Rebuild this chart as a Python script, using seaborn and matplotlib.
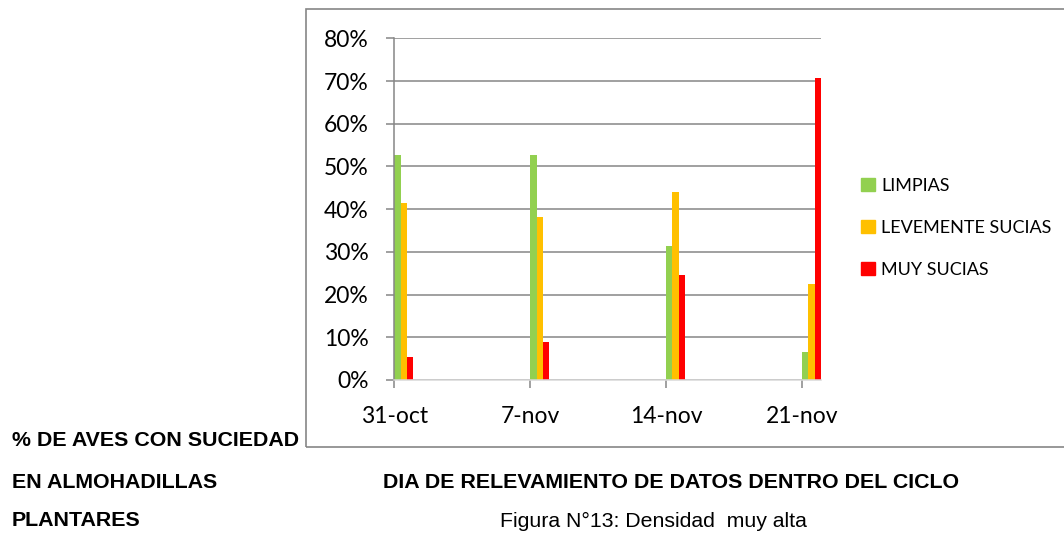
import pandas as pd
import seaborn as sns
import matplotlib.pyplot as plt
from matplotlib.patches import Rectangle
from matplotlib.ticker import PercentFormatter

fechas = ["31-oct", "7-nov", "14-nov", "21-nov"]
series = ["LIMPIAS", "LEVEMENTE SUCIAS", "MUY SUCIAS"]
limpias = [0.527, 0.527, 0.314, 0.066]
levemente_sucias = [0.415, 0.382, 0.44, 0.224]
muy_sucias = [0.055, 0.088, 0.246, 0.706]
colores = ["#92D050", "#FFC000", "#FF0000"]


def main() -> None:
    datos = pd.DataFrame(
        {
            "Fecha": fechas * 3,
            "Serie": [s for s in series for _ in fechas],
            "Valor": limpias + levemente_sucias + muy_sucias,
        }
    )

    sns.set_style("white")
    plt.rcParams["font.family"] = ["Lato", "DejaVu Sans"]
    plt.rcParams["text.color"] = "black"
    plt.rcParams["xtick.labelcolor"] = "black"
    plt.rcParams["ytick.labelcolor"] = "black"

    W, H = 1064, 533
    fig = plt.figure(figsize=(W / 100, H / 100), dpi=100)
    ax = fig.add_axes([394.3 / W, 1 - 380 / H, (821 - 394.3) / W, (380 - 38.3) / H])

    # marco del gráfico
    fig.patches.append(
        Rectangle((305.7 / W, 1 - 447 / H), 1.0, (447 - 9.3) / H,
                  transform=fig.transFigure, fill=False,
                  edgecolor="#868686", linewidth=1.2, clip_on=False)
    )

    grupo = 0.14
    sns.barplot(
        data=datos, x="Fecha", y="Valor", hue="Serie",
        order=fechas, hue_order=series, palette=colores,
        width=grupo, gap=0, dodge=True, legend=False, ax=ax,
        saturation=1, linewidth=0,
    )

    ax.set_xlim(-grupo / 2, len(fechas) - 1 + grupo / 2)
    ax.set_xticks([i - grupo / 2 for i in range(len(fechas))])
    ax.set_xticklabels(fechas)
    ax.set_ylim(0, 0.8)
    ax.set_yticks([i / 10 for i in range(9)])
    ax.yaxis.set_major_formatter(PercentFormatter(1.0, decimals=0))
    ax.set_xlabel("")
    ax.set_ylabel("")

    ax.grid(axis="y", color="#868686", linewidth=1.1)
    ax.set_axisbelow(True)
    ax.tick_params(axis="y", length=6, width=1.1, color="#868686",
                   pad=12.5, labelsize=16.5, left=True)
    ax.tick_params(axis="x", length=6, width=1.1, color="#868686",
                   pad=12.5, labelsize=16.5, bottom=True)
    for lado in ["top", "right"]:
        ax.spines[lado].set_visible(False)
    ax.spines["left"].set_color("#868686")
    ax.spines["left"].set_linewidth(1.1)
    ax.spines["bottom"].set_color("#D9D9D9")
    ax.spines["bottom"].set_linewidth(1.1)

    handles = [Rectangle((0, 0), 1, 1, color=c) for c in colores]
    fig.legend(
        handles, series, loc="center left",
        bbox_to_anchor=(845 / W, 1 - 228 / H), frameon=False,
        fontsize=13, handlelength=0.75, handleheight=0.75,
        handletextpad=0.35, labelspacing=1.45,
    )

    bold = dict(family=["Liberation Sans", "DejaVu Sans"], fontweight="bold",
                fontsize=15.4, va="center", ha="left", color="black")
    fig.text(12 / W, 1 - 441 / H, "% DE AVES CON SUCIEDAD", **bold)
    fig.text(12 / W, 1 - 482 / H, "EN ALMOHADILLAS", **bold)
    fig.text(12 / W, 1 - 521 / H, "PLANTARES", **bold)
    fig.text(383 / W, 1 - 482 / H, "DIA DE RELEVAMIENTO DE DATOS DENTRO DEL CICLO", **bold)
    fig.text(500 / W, 1 - 521 / H, "Figura N°13: Densidad  muy alta",
             family=["Liberation Sans", "DejaVu Sans"], fontsize=15.3,
             va="center", ha="left", color="black")

    fig.savefig("out.png", dpi=100)


if __name__ == "__main__":
    main()
